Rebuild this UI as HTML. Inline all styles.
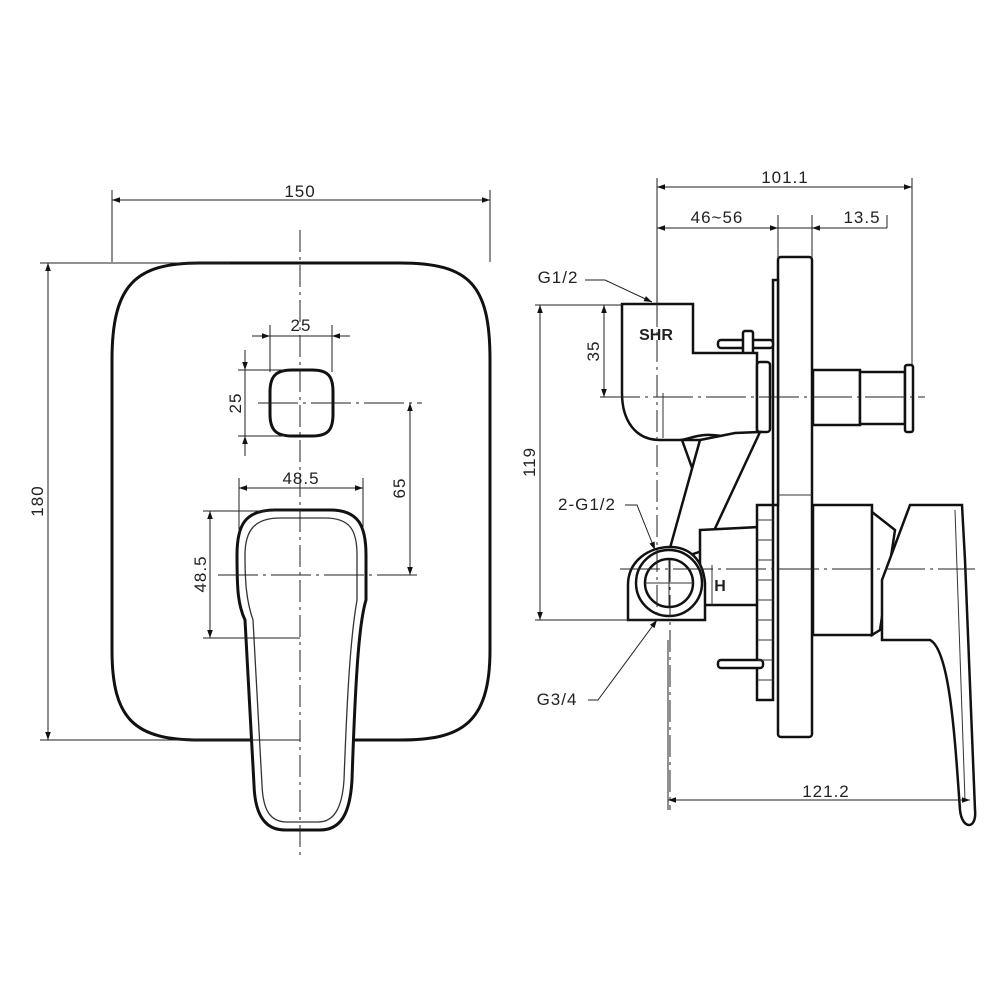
<!DOCTYPE html>
<html><head><meta charset="utf-8"><style>
html,body{margin:0;padding:0;background:#fff;}
svg{display:block}
text{font-family:"Liberation Sans",sans-serif;font-size:17px;fill:#222;letter-spacing:1px}
</style></head><body>
<svg width="1000" height="1000" viewBox="0 0 1000 1000" xmlns="http://www.w3.org/2000/svg">
<defs>
<marker id="a" viewBox="0 0 10 10" refX="10" refY="5" markerWidth="10" markerHeight="8" orient="auto-start-reverse" markerUnits="userSpaceOnUse"><path d="M0,1.5 L10,5 L0,8.5z" fill="#111"/></marker>
</defs>
<!-- LEFT shapes -->
<g stroke="#111" stroke-width="3" fill="none">
<path d="M200,263 L400,263 C470,263 490,285 490,360 L490,650 C490,725 460,740 400,740 L200,740 C135,740 112,720 112,650 L112,360 C112,285 135,263 200,263Z" fill="#fff"/>
<path d="M292,370 L312,370 C328,370 333,376 333,392 L333,414 C333,430 328,436 312,436 L292,436 C276,436 270,430 270,414 L270,392 C270,376 276,370 292,370Z"/>
<path d="M275,510 L330,510 C358,510 366,525 366,555 L366,600 C360,620 356,660 352,780 C350,815 340,830 320,830 L285,830 C265,830 255,815 254,785 L245,620 C238,605 237,590 237,555 C237,525 245,510 275,510Z" fill="#fff"/>
</g>
<path d="M280,518 L325,518 C350,518 357,530 357,555 L357,600 C350,640 347,700 344,780 C342,810 333,822 318,822 L287,822 C270,822 263,810 262,785 L253,620 C246,600 245,580 245,555 C245,530 255,518 280,518Z" fill="none" stroke="#333" stroke-width="1.3"/>
<g stroke="#222" stroke-width="1" fill="none">
<line x1="112" y1="190" x2="112" y2="262"/><line x1="490" y1="190" x2="490" y2="262"/>
<line x1="112" y1="200" x2="490" y2="200" marker-start="url(#a)" marker-end="url(#a)"/>
<line x1="40" y1="263" x2="230" y2="263"/><line x1="40" y1="740" x2="300" y2="740"/>
<line x1="48" y1="263" x2="48" y2="740" marker-start="url(#a)" marker-end="url(#a)"/>
<line x1="300" y1="230" x2="300" y2="855" stroke-dasharray="22,5,3,5"/>
<line x1="270" y1="325" x2="270" y2="372"/><line x1="332" y1="325" x2="332" y2="372"/>
<line x1="252" y1="336" x2="270" y2="336" marker-end="url(#a)"/><line x1="270" y1="336" x2="332" y2="336"/><line x1="350" y1="336" x2="332" y2="336" marker-end="url(#a)"/>
<line x1="238" y1="370" x2="285" y2="370"/><line x1="238" y1="436" x2="285" y2="436"/>
<line x1="245" y1="350" x2="245" y2="370" marker-end="url(#a)"/><line x1="245" y1="370" x2="245" y2="436"/><line x1="245" y1="456" x2="245" y2="436" marker-end="url(#a)"/>
<line x1="258" y1="403" x2="422" y2="403" stroke-dasharray="40,5,3,5"/>
<line x1="410" y1="403" x2="410" y2="575" marker-start="url(#a)" marker-end="url(#a)"/>
<line x1="218" y1="575" x2="422" y2="575" stroke-dasharray="40,5,3,5"/>
<line x1="239" y1="478" x2="239" y2="530"/><line x1="363" y1="478" x2="363" y2="530"/>
<line x1="239" y1="488" x2="363" y2="488" marker-start="url(#a)" marker-end="url(#a)"/>
<line x1="203" y1="511" x2="300" y2="511"/><line x1="203" y1="638" x2="300" y2="638"/>
<line x1="210" y1="511" x2="210" y2="638" marker-start="url(#a)" marker-end="url(#a)"/>
</g>
<text x="300" y="197" text-anchor="middle">150</text>
<text transform="translate(43,501) rotate(-90)" text-anchor="middle">180</text>
<text x="301" y="331" text-anchor="middle">25</text>
<text transform="translate(241,403) rotate(-90)" text-anchor="middle">25</text>
<text transform="translate(405,488) rotate(-90)" text-anchor="middle">65</text>
<text x="301" y="484" text-anchor="middle">48.5</text>
<text transform="translate(206,574) rotate(-90)" text-anchor="middle">48.5</text>

<!-- RIGHT VIEW shapes -->
<g stroke="#111" stroke-width="2.5" fill="#fff">
<rect x="778" y="257" width="34" height="480" rx="3"/>
<rect x="773" y="280" width="5" height="225"/>
<rect x="813" y="370" width="47" height="55"/>
<rect x="860" y="372" width="45" height="52"/>
<rect x="905" y="365" width="8" height="67" rx="2"/>
<rect x="718" y="340" width="55" height="8" rx="3"/>
<rect x="743" y="331" width="10" height="26" rx="2"/>
<path d="M622,304 L693,304 L693,353 L757,353 L757,438 L730,438 C700,430 690,440 680,440 L660,440 C635,440 622,420 622,393Z"/>
<rect x="757" y="362" width="13" height="70" rx="3"/>
<path d="M682,440 L700,490 L720,440Z"/>
<path d="M700,440 L735,433 L760,432 L705,550 L675,560 L670,548Z"/>
<path d="M700,530 L760,527 L760,605 L700,605Z"/>
<rect x="757" y="505" width="16" height="195"/>
<rect x="718" y="660" width="45" height="8" rx="3"/>
<path d="M628,620 L628,585 C628,560 650,547 670,547 C690,547 703,560 705,583 L705,620Z"/>
<circle cx="669" cy="583" r="33"/>
<circle cx="669" cy="583" r="24"/>
<rect x="813" y="505" width="59" height="130"/>
<path d="M872,512 L895,530 L880,630 L872,635Z"/>
<path d="M910,505 L962,505 L965,560 L975,810 C977,830 962,830 960,810 C955,740 950,650 930,640 L882,640 L882,580Z"/>
</g>
<g stroke="#333" stroke-width="1" fill="none">
<line x1="645" y1="583" x2="693" y2="583"/><line x1="669" y1="560" x2="669" y2="606"/>
<line x1="757" y1="520" x2="773" y2="520"/><line x1="757" y1="540" x2="773" y2="540"/><line x1="757" y1="560" x2="773" y2="560"/><line x1="757" y1="580" x2="773" y2="580"/><line x1="757" y1="600" x2="773" y2="600"/><line x1="757" y1="620" x2="773" y2="620"/><line x1="757" y1="640" x2="773" y2="640"/><line x1="757" y1="660" x2="773" y2="660"/><line x1="757" y1="680" x2="773" y2="680"/>
<line x1="778" y1="495" x2="812" y2="495"/>
<line x1="955" y1="510" x2="965" y2="800"/>
<line x1="663" y1="393" x2="663" y2="438"/>
<line x1="712" y1="565" x2="712" y2="605"/>
</g>
<g stroke="#222" stroke-width="1" fill="none">
<line x1="657" y1="178" x2="657" y2="305"/><line x1="912" y1="178" x2="912" y2="365"/>
<line x1="657" y1="187" x2="912" y2="187" marker-start="url(#a)" marker-end="url(#a)"/>
<line x1="778" y1="215" x2="778" y2="258"/><line x1="812" y1="215" x2="812" y2="258"/><line x1="887" y1="215" x2="887" y2="228"/>
<line x1="657" y1="228" x2="778" y2="228" marker-start="url(#a)" marker-end="url(#a)"/>
<line x1="778" y1="228" x2="812" y2="228"/>
<line x1="887" y1="228" x2="812" y2="228" marker-end="url(#a)"/>
<line x1="657" y1="305" x2="657" y2="620" stroke-dasharray="22,5,3,5"/>
<line x1="670" y1="560" x2="670" y2="810" stroke-dasharray="22,5,3,5"/>
<line x1="600" y1="397" x2="925" y2="397" stroke-dasharray="40,5,3,5"/>
<line x1="620" y1="569" x2="975" y2="569" stroke-dasharray="40,5,3,5"/>
<line x1="535" y1="305" x2="622" y2="305"/><line x1="535" y1="620" x2="660" y2="620"/>
<line x1="604" y1="305" x2="604" y2="397" marker-start="url(#a)" marker-end="url(#a)"/>
<line x1="540" y1="305" x2="540" y2="620" marker-start="url(#a)" marker-end="url(#a)"/>
<line x1="668" y1="640" x2="668" y2="810"/>
<line x1="668" y1="800" x2="970" y2="800" marker-start="url(#a)" marker-end="url(#a)"/>
<polyline points="585,280 605,280 652,302" marker-end="url(#a)"/>
<polyline points="625,505 637,505 655,550" marker-end="url(#a)"/>
<polyline points="588,700 598,700 657,620" marker-end="url(#a)"/>
</g>
<text x="785" y="183" text-anchor="middle">101.1</text>
<text x="717" y="223" text-anchor="middle">46~56</text>
<text x="862" y="223" text-anchor="middle">13.5</text>
<text x="558" y="283" text-anchor="middle">G1/2</text>
<text x="587" y="510" text-anchor="middle">2-G1/2</text>
<text x="557" y="705" text-anchor="middle">G3/4</text>
<text transform="translate(599,351) rotate(-90)" text-anchor="middle">35</text>
<text transform="translate(535,462) rotate(-90)" text-anchor="middle">119</text>
<text x="826" y="797" text-anchor="middle">121.2</text>
<text x="656" y="340" text-anchor="middle" style="font-weight:bold;font-size:16px;letter-spacing:0">SHR</text>
<text x="720" y="591" text-anchor="middle" style="font-weight:bold;font-size:16px;letter-spacing:0">H</text>
</svg>
</body></html>
